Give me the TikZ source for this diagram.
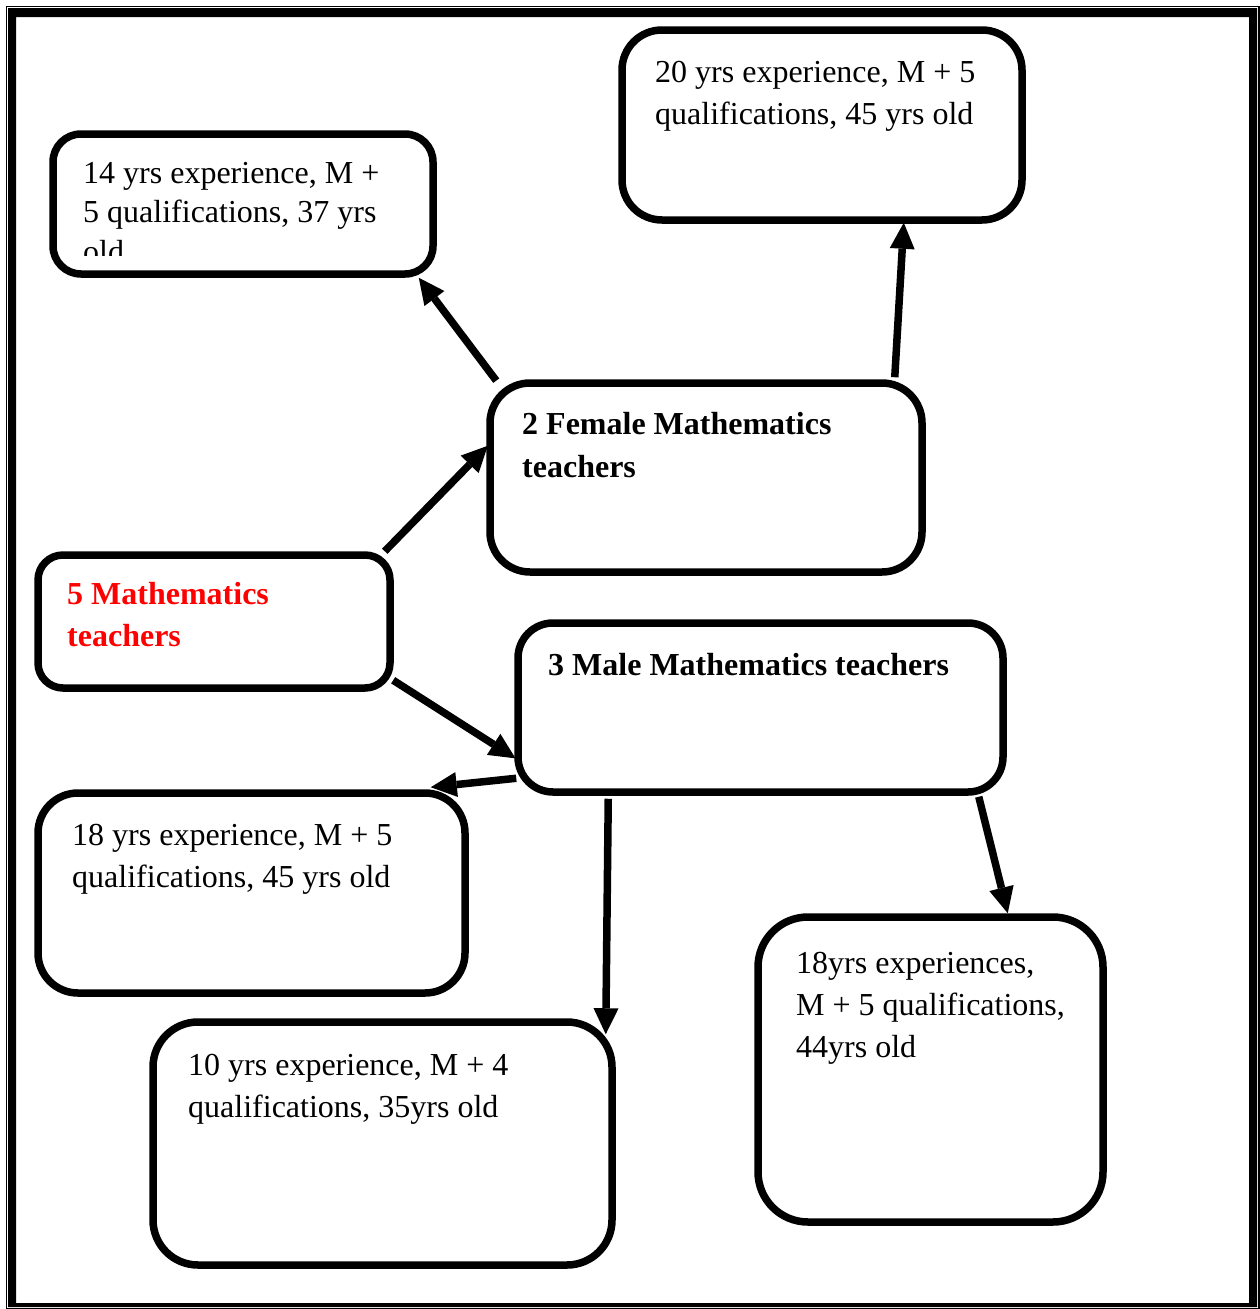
\documentclass[tikz,border=0pt]{standalone}
\usepackage{fontspec}
\setmainfont{Liberation Serif}
\usetikzlibrary{arrows.meta}
\newcommand{\boxlines}[2][42pt]{\vtop{\baselineskip=#1\relax #2}}
\begin{document}
\begin{tikzpicture}[x=1pt,y=-1pt,
  box/.style={draw=black, line width=7.5pt, rectangle, inner sep=0pt, fill=white},
  txt/.style={anchor=base west, inner sep=0pt, font=\fontsize{32pt}{42pt}\selectfont},
  conn/.style={line width=7.5pt, -{Triangle[length=26pt,width=25pt,line width=0pt]}}]
\useasboundingbox (0,0) rectangle (1260,1309);
% page border
\fill[black, even odd rule] (8,8) rectangle (1257,1307) (16,17) rectangle (1249,1303);
\draw[line width=1.2pt] (6.5,6.5) rectangle (1259,1308.5);

% boxes
\node[box, rounded corners=28pt, minimum width=380pt, minimum height=140pt] (A) at (243,204) {};
\node[box, rounded corners=40pt, minimum width=400pt, minimum height=190pt] (B) at (822,125) {};
\node[box, rounded corners=40pt, minimum width=432pt, minimum height=189pt] (C) at (706,477.5) {};
\node[box, rounded corners=25pt, minimum width=352pt, minimum height=133pt] (D) at (214,621.5) {};
\node[box, rounded corners=35pt, minimum width=485pt, minimum height=169pt] (E) at (760.5,707.5) {};
\node[box, rounded corners=40pt, minimum width=427pt, minimum height=200pt] (F) at (251.5,893) {};
\node[box, rounded corners=50pt, minimum width=345pt, minimum height=305pt] (G) at (930.5,1069.5) {};
\node[box, rounded corners=45pt, minimum width=459pt, minimum height=243pt] (H) at (382.5,1143.5) {};

% texts
\begin{scope}
\clip (53,134) rectangle (433,255);
\node[txt] (tA) at (83,183) {\boxlines[39.5pt]{\hbox{14 yrs experience, M +}\hbox{5 qualifications, 37 yrs}\hbox{old}}};
\end{scope}
\node[txt] (tB) at (655,82) {\boxlines{\hbox{20 yrs experience, M + 5}\hbox{qualifications, 45 yrs old}}};
\node[txt, font=\fontsize{32pt}{42pt}\selectfont\bfseries] (tC) at (522,434) {\boxlines[43pt]{\hbox{2 Female Mathematics}\hbox{teachers}}};
\node[txt, text=red, font=\fontsize{32pt}{42pt}\selectfont\bfseries] (tD) at (67,604) {\boxlines{\hbox{5 Mathematics}\hbox{teachers}}};
\node[txt, font=\fontsize{32pt}{42pt}\selectfont\bfseries] (tE) at (548,675) {3 Male Mathematics teachers};
\node[txt] (tF) at (72,845) {\boxlines{\hbox{18 yrs experience, M + 5}\hbox{qualifications, 45 yrs old}}};
\node[txt] (tG) at (796,973) {\boxlines{\hbox{18yrs experiences,}\hbox{M + 5 qualifications,}\hbox{44yrs old}}};
\node[txt] (tH) at (188,1075) {\boxlines{\hbox{10 yrs experience, M + 4}\hbox{qualifications, 35yrs old}}};

% connectors
\draw[conn] ([xshift=10pt,yshift=-1.4pt]C.north west) -- ([xshift=-18pt,yshift=0pt]A.south east);
\draw[conn] ([xshift=-31pt,yshift=2pt]C.north east) -- ([xshift=-122pt,yshift=1pt]B.south east);
\draw[conn] ([xshift=-9pt,yshift=0pt]D.north east) -- ([xshift=1.6pt,yshift=-66.5pt]C.north west);
\draw[conn] ([xshift=-0.6pt,yshift=11.5pt]D.south east) -- ([xshift=1.3pt,yshift=37.4pt]E.south west);
\draw[conn] ([xshift=2pt,yshift=17.5pt]E.south west) -- ([xshift=-38pt,yshift=2pt]F.north east);
\draw[conn] ([xshift=94pt,yshift=-3pt]E.south west) -- ([xshift=-10pt,yshift=-16pt]H.north east);
\draw[conn] ([xshift=-28pt,yshift=-1pt]E.south east) -- ([xshift=-99pt,yshift=0pt]G.north east);
\end{tikzpicture}
\end{document}
